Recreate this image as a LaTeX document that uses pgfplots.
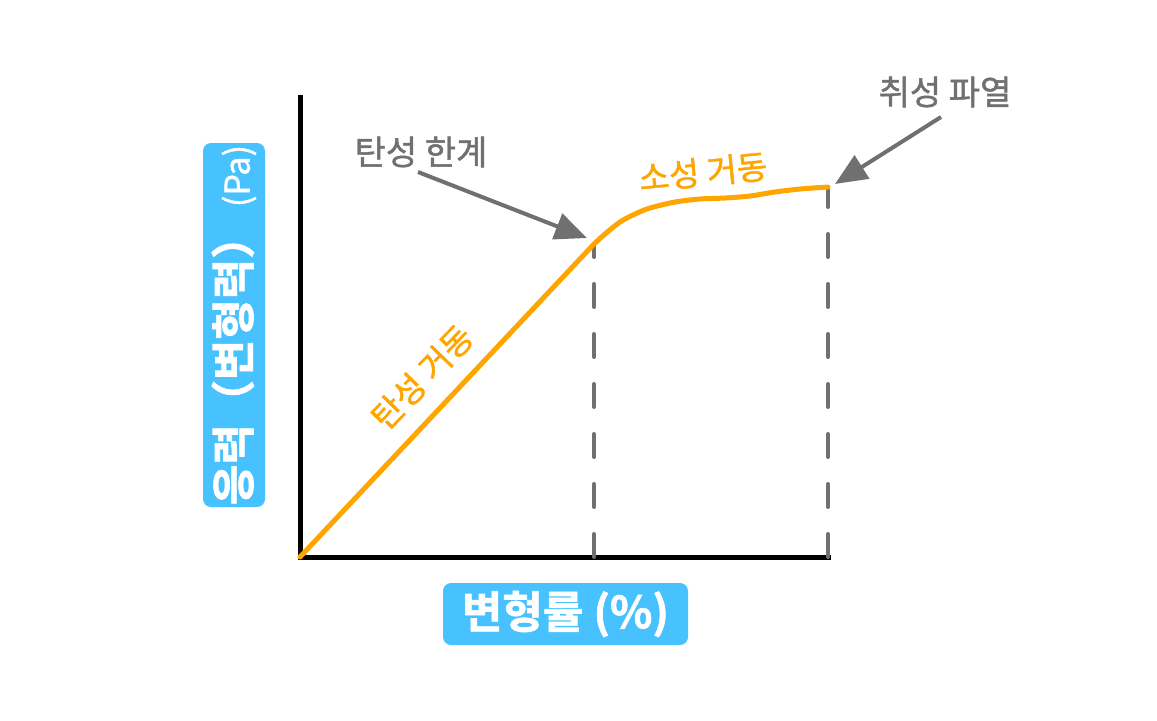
\documentclass[border=0pt]{standalone}
\usepackage{fontspec}
\setmainfont{Noto Sans CJK KR}
\newfontfamily\krmed[FakeBold=1.3]{Noto Sans CJK KR}
\newfontfamily\krheavy[FakeBold=1.6]{Noto Sans CJK KR Bold}
\usepackage{pgfplots}
\pgfplotsset{compat=1.18}
\usetikzlibrary{arrows.meta}
\definecolor{curve}{HTML}{FFA500}
\definecolor{anno}{HTML}{707070}
\definecolor{boxblue}{HTML}{47C2FF}
\begin{document}
\begin{tikzpicture}
\useasboundingbox (0,0) rectangle (578.5pt,-360pt);
\begin{axis}[
  at={(150pt,-278.5pt)}, anchor=origin,
  scale only axis, width=264pt, height=230pt,
  xmin=0, xmax=100, ymin=0, ymax=100,
  axis lines=left,
  axis line style={-, line width=2.5pt, black, line cap=rect},
  ticks=none, clip=false,
]
% dashed guide lines (drawn from the bottom upwards)
\addplot[anno, line width=2pt, line cap=round, dash pattern=on 11.5pt off 13.5pt]
  coordinates {(55.68,0) (55.68,68.04)};
\addplot[anno, line width=2pt, line cap=round, dash pattern=on 11.5pt off 13.5pt]
  coordinates {(100,0) (100,80.43)};
% elastic region
\addplot[curve, line width=2.5pt, line cap=round]
  coordinates {(0,0) (55.68,68.04)};
% plastic region
\addplot[curve, line width=2.5pt, line cap=round, smooth, tension=0.5]
  coordinates {(55.68,68.04) (57.77,70.22) (60.61,72.83) (63.45,74.57) (66.29,75.87)
               (71.02,77.17) (75.76,77.83) (80.49,78.04) (85.23,78.48) (89.96,79.35)
               (94.70,80.0) (100,80.43)};
\end{axis}
\begin{scope}[x=0.5pt, y=-0.5pt]
% axis labels
\node[fill=boxblue, rounded corners=4pt, text=white, minimum width=182pt, minimum height=31pt,
      inner sep=0pt, rotate=90] at (234,325)
  {{\krheavy\fontsize{22pt}{22pt}\selectfont 응력（변형력）}{\krmed\fontsize{17pt}{17pt}\selectfont\ (Pa)}};
\node[fill=boxblue, rounded corners=4pt, text=white, minimum width=122.5pt, minimum height=31pt,
      inner sep=0pt] at (565.5,614)
  {\krheavy\fontsize{22pt}{22pt}\selectfont 변형률 (\%)};
% annotations
\node[text=anno, inner sep=0pt] at (421,152) {\krmed\fontsize{17pt}{17pt}\selectfont 탄성 한계};
\node[text=anno, inner sep=0pt] at (945,92) {\krmed\fontsize{17pt}{17pt}\selectfont 취성 파열};
\draw[anno, line width=2pt, -{Triangle[length=16pt,width=13.5pt]}] (418,172) -- (587,238);
\draw[anno, line width=2pt, -{Triangle[length=16pt,width=13.5pt]}] (941,117) -- (835,184);
\node[text=curve, inner sep=0pt, rotate=5.6] at (703,172) {\krmed\fontsize{16.5pt}{16.5pt}\selectfont 소성 거동};
\node[text=curve, inner sep=0pt, rotate=46] at (422,377) {\krmed\fontsize{16.5pt}{16.5pt}\selectfont 탄성 거동};
\end{scope}
\end{tikzpicture}
\end{document}
